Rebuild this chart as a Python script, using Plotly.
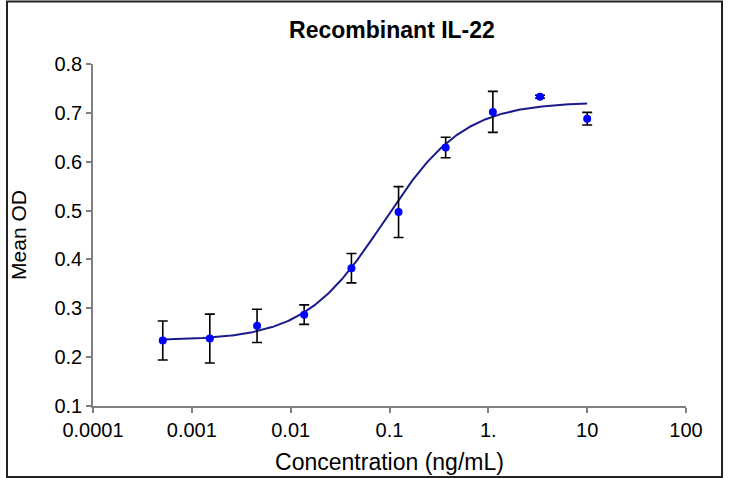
import numpy as np
import plotly.graph_objects as go

# Data
concentration = [0.000508, 0.00152, 0.00457, 0.0137, 0.0412, 0.1235, 0.370, 1.111, 3.333, 10.0]
mean_od = [0.234, 0.238, 0.264, 0.287, 0.382, 0.497, 0.629, 0.702, 0.733, 0.688]
od_err = [0.040, 0.050, 0.034, 0.020, 0.030, 0.052, 0.021, 0.042, 0.003, 0.013]

# 4-parameter logistic fit parameters (bottom, top, EC50, hill)
fit_bottom = 0.234
fit_top = 0.722
fit_ec50 = 0.088
fit_hill = 1.08

x_tickvals = [0.0001, 0.001, 0.01, 0.1, 1, 10, 100]
x_ticktext = ["0.0001", "0.001", "0.01", "0.1", "1.", "10", "100"]
y_tickvals = [0.1, 0.2, 0.3, 0.4, 0.5, 0.6, 0.7, 0.8]
y_ticktext = ["0.1", "0.2", "0.3", "0.4", "0.5", "0.6", "0.7", "0.8"]

fit_x = np.logspace(np.log10(concentration[0]), np.log10(concentration[-1]), 300)
fit_y = fit_top + (fit_bottom - fit_top) / (1 + (fit_x / fit_ec50) ** fit_hill)

FONT = "Liberation Sans, Arial, sans-serif"

fig = go.Figure()
fig.add_trace(go.Scatter(
    x=fit_x, y=fit_y, mode="lines",
    line=dict(color="#1a1a8c", width=2),
    hoverinfo="skip", showlegend=False,
))
fig.add_trace(go.Scatter(
    x=concentration, y=mean_od, mode="markers",
    marker=dict(color="#0000ff", size=8),
    error_y=dict(type="data", array=od_err, visible=True,
                 color="black", thickness=1.6, width=5),
    showlegend=False,
))

L, R, T, B = 93, 44, 64, 72
W, H = 730, 478
pw, ph = W - L - R, H - T - B

def px_to_paper_x(px):
    return (px - L) / pw

def px_to_paper_y(py):
    return (H - B - py) / ph

fig.add_shape(type="rect", xref="paper", yref="paper",
              x0=px_to_paper_x(7), x1=px_to_paper_x(722),
              y0=px_to_paper_y(477), y1=px_to_paper_y(1.5),
              line=dict(color="#222222", width=2), fillcolor="rgba(0,0,0,0)",
              layer="below")

fig.update_layout(
    width=W, height=H,
    margin=dict(l=L, r=R, t=T, b=B, autoexpand=False),
    paper_bgcolor="white", plot_bgcolor="white",
    font=dict(family=FONT, color="black"),
    title=dict(text="<b>Recombinant IL-22</b>", x=px_to_paper_x(392), xref="paper",
               xanchor="center", y=1 - 30 / H, yanchor="middle",
               font=dict(size=23, family=FONT, color="black")),
    xaxis=dict(
        type="log", range=[-4, 2],
        tickvals=x_tickvals, ticktext=x_ticktext,
        ticks="outside", ticklen=5, tickcolor="#808080", tickwidth=1.5,
        showline=True, linecolor="#808080", linewidth=1.5,
        showgrid=False, zeroline=False, automargin=False,
        tickfont=dict(size=20, family=FONT, color="black"),
        title=dict(text="Concentration (ng/mL)", font=dict(size=23, family=FONT, color="black"),
                   standoff=14),
    ),
    yaxis=dict(
        range=[0.1, 0.8],
        tickvals=y_tickvals, ticktext=y_ticktext,
        ticks="outside", ticklen=5, tickcolor="#808080", tickwidth=1.5,
        showline=True, linecolor="#808080", linewidth=1.5,
        showgrid=False, zeroline=False, automargin=False,
        tickfont=dict(size=20, family=FONT, color="black"),
        title=dict(text="Mean OD", font=dict(size=21, family=FONT, color="black"),
                   standoff=22),
    ),
)

fig.write_html("out.html", config={"displayModeBar": False},
               post_script="document.body.style.margin='0';document.body.style.overflow='hidden';")
